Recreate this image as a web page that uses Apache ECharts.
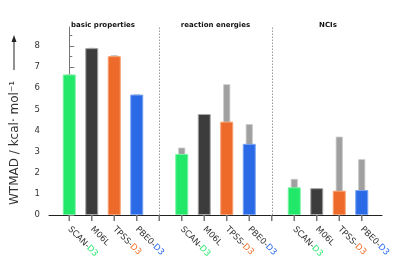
<!DOCTYPE html>
<html>
<head>
<meta charset="utf-8">
<script src="https://cdn.jsdelivr.net/npm/echarts@6/dist/echarts.min.js"></script>
<style>html,body{margin:0;padding:0;background:#fff}#c{width:407px;height:274px}</style>
</head>
<body>
<div id="c"></div>
<script>
// ---- data ----
var groups = ['basic properties', 'reaction energies', 'NCIs'];
var methods = ['SCAN', 'M06L', 'TPSS', 'PBE0'];
var suffixes = ['D3', '', 'D3', 'D3'];
var yTicks = [0, 1, 2, 3, 4, 5, 6, 7, 8];
// coloured bars (with D3 / as reported)
var basicColored = [6.65, 7.90, 7.52, 5.70];
var reactionColored = [2.89, 4.78, 4.42, 3.37];
var nciColored = [1.31, 1.27, 1.15, 1.18];
// grey bars behind
var basicGray = [6.66, 7.92, 7.57, 5.72];
var reactionGray = [3.19, 4.78, 6.19, 4.30];
var nciGray = [1.71, 1.27, 3.71, 2.64];

var colors = ['#22e86a', '#3c3c3c', '#ee6a2a', '#2a6ae6'];
var borders = ['#7af2a4', '#a8a8a8', '#f8a070', '#7aa4f4'];
var suffixColors = ['#22e86a', '#3c3c3c', '#f26a20', '#2266ee'];

var colored = [basicColored, reactionColored, nciColored];
var gray = [basicGray, reactionGray, nciGray];

var coloredData = [], grayData = [], tickPos = [], labelMap = {}, groupPos = [];
colored.forEach(function (arr, g) {
  groupPos.push(g * 5 + 1.5);
  arr.forEach(function (v, i) {
    var x = g * 5 + i;
    coloredData.push({value: [x, v], itemStyle: {color: colors[i], borderColor: borders[i]}});
    grayData.push([x, gray[g][i]]);
    labelMap[x] = i;
  });
});
for (var t = 0; t <= 13; t++) tickPos.push(t);
var minorY = [];
for (var k = 0; k < 9; k++) minorY.push(k + 0.5);

var chart = echarts.init(document.getElementById('c'));
var FONT = 'DejaVu Sans';
chart.setOption({
  animation: false,
  textStyle: {fontFamily: FONT},
  grid: [
    {left: 49, right: 25, top: 27, bottom: 59},
    {left: 49, right: 25, top: 215, height: 6}
  ],
  xAxis: [{
    type: 'value', min: -0.9, max: 13.9, gridIndex: 0,
    splitLine: {show: false},
    axisLine: {lineStyle: {color: '#222', width: 1}},
    axisTick: {show: false},
    axisLabel: {
      customValues: tickPos, rotate: -45, margin: 13,
      formatter: function (v) {
        var i = labelMap[v];
        if (i === undefined) return '';
        var s = '{m|' + methods[i] + (suffixes[i] ? '-' : '') + '}';
        if (suffixes[i]) s += '{s' + i + '|' + suffixes[i] + '}';
        return s;
      },
      rich: {
        m: {color: '#333', fontSize: 8.5, fontFamily: FONT},
        s0: {color: suffixColors[0], fontSize: 8.5, fontFamily: FONT},
        s2: {color: suffixColors[2], fontSize: 8.5, fontFamily: FONT},
        s3: {color: suffixColors[3], fontSize: 8.5, fontFamily: FONT}
      }
    }
  }, {
    type: 'value', min: -0.9, max: 13.9, position: 'top', gridIndex: 0,
    splitLine: {show: false}, axisLine: {show: false}, axisTick: {show: false},
    axisLabel: {
      customValues: groupPos, margin: -2,
      formatter: function (v) { return groups[groupPos.indexOf(v)]; },
      fontSize: 7, fontWeight: 'bold', color: '#111', fontFamily: FONT
    }
  }, {
    type: 'value', min: -0.9, max: 13.9, gridIndex: 1,
    splitLine: {show: false}, axisLine: {show: false}, axisLabel: {show: false}, axisTick: {show: false}
  }],
  yAxis: [{
    type: 'value', min: 0, max: 8.9, gridIndex: 0,
    splitLine: {show: false},
    axisLine: {show: true, lineStyle: {color: '#777'}},
    axisTick: {customValues: yTicks, inside: true, length: 5, lineStyle: {color: '#777'}},
    axisLabel: {customValues: yTicks, fontSize: 8.5, color: '#333', margin: 9}
  }, {
    type: 'value', min: 0, max: 8.9, position: 'left', gridIndex: 0,
    splitLine: {show: false},
    axisLine: {show: false},
    axisTick: {customValues: minorY, inside: true, length: 3, lineStyle: {color: '#777'}},
    axisLabel: {show: false}
  }, {
    type: 'value', min: 0, max: 1, gridIndex: 1, inverse: true,
    splitLine: {show: false}, axisLine: {show: false}, axisLabel: {show: false}, axisTick: {show: false}
  }],
  series: [{
    type: 'bar', data: grayData, barWidth: 7, xAxisIndex: 1, yAxisIndex: 0,
    itemStyle: {color: '#a0a0a0', borderColor: '#c8c8c8', borderWidth: 0.8},
    markLine: {
      silent: true, symbol: 'none', label: {show: false},
      lineStyle: {color: '#999', type: [1.5, 1.5], width: 1},
      data: [{xAxis: 4}, {xAxis: 9}]
    }
  }, {
    type: 'bar', data: coloredData, barWidth: 13, xAxisIndex: 0, yAxisIndex: 0,
    itemStyle: {borderWidth: 1}
  }, {
    // x-axis tick marks, one per slot, in a thin strip under the axis
    type: 'bar', xAxisIndex: 2, yAxisIndex: 2, silent: true,
    data: tickPos.map(function (x) { return [x, 1]; }),
    barWidth: 1.5, barMinHeight: 5, itemStyle: {color: '#777'}
  }],
  graphic: [{
    type: 'text', x: 15, y: 143, rotation: Math.PI / 2,
    style: {text: 'WTMAD / kcal· mol⁻¹', font: '12px "DejaVu Sans"', fill: '#333', align: 'center', verticalAlign: 'middle'}
  }, {
    type: 'line', shape: {x1: 14, y1: 70, x2: 14, y2: 40}, style: {stroke: '#222', lineWidth: 1}
  }, {
    type: 'polygon', shape: {points: [[14, 35], [11.5, 42], [16.5, 42]]}, style: {fill: '#222'}
  }]
});
</script>
</body>
</html>
